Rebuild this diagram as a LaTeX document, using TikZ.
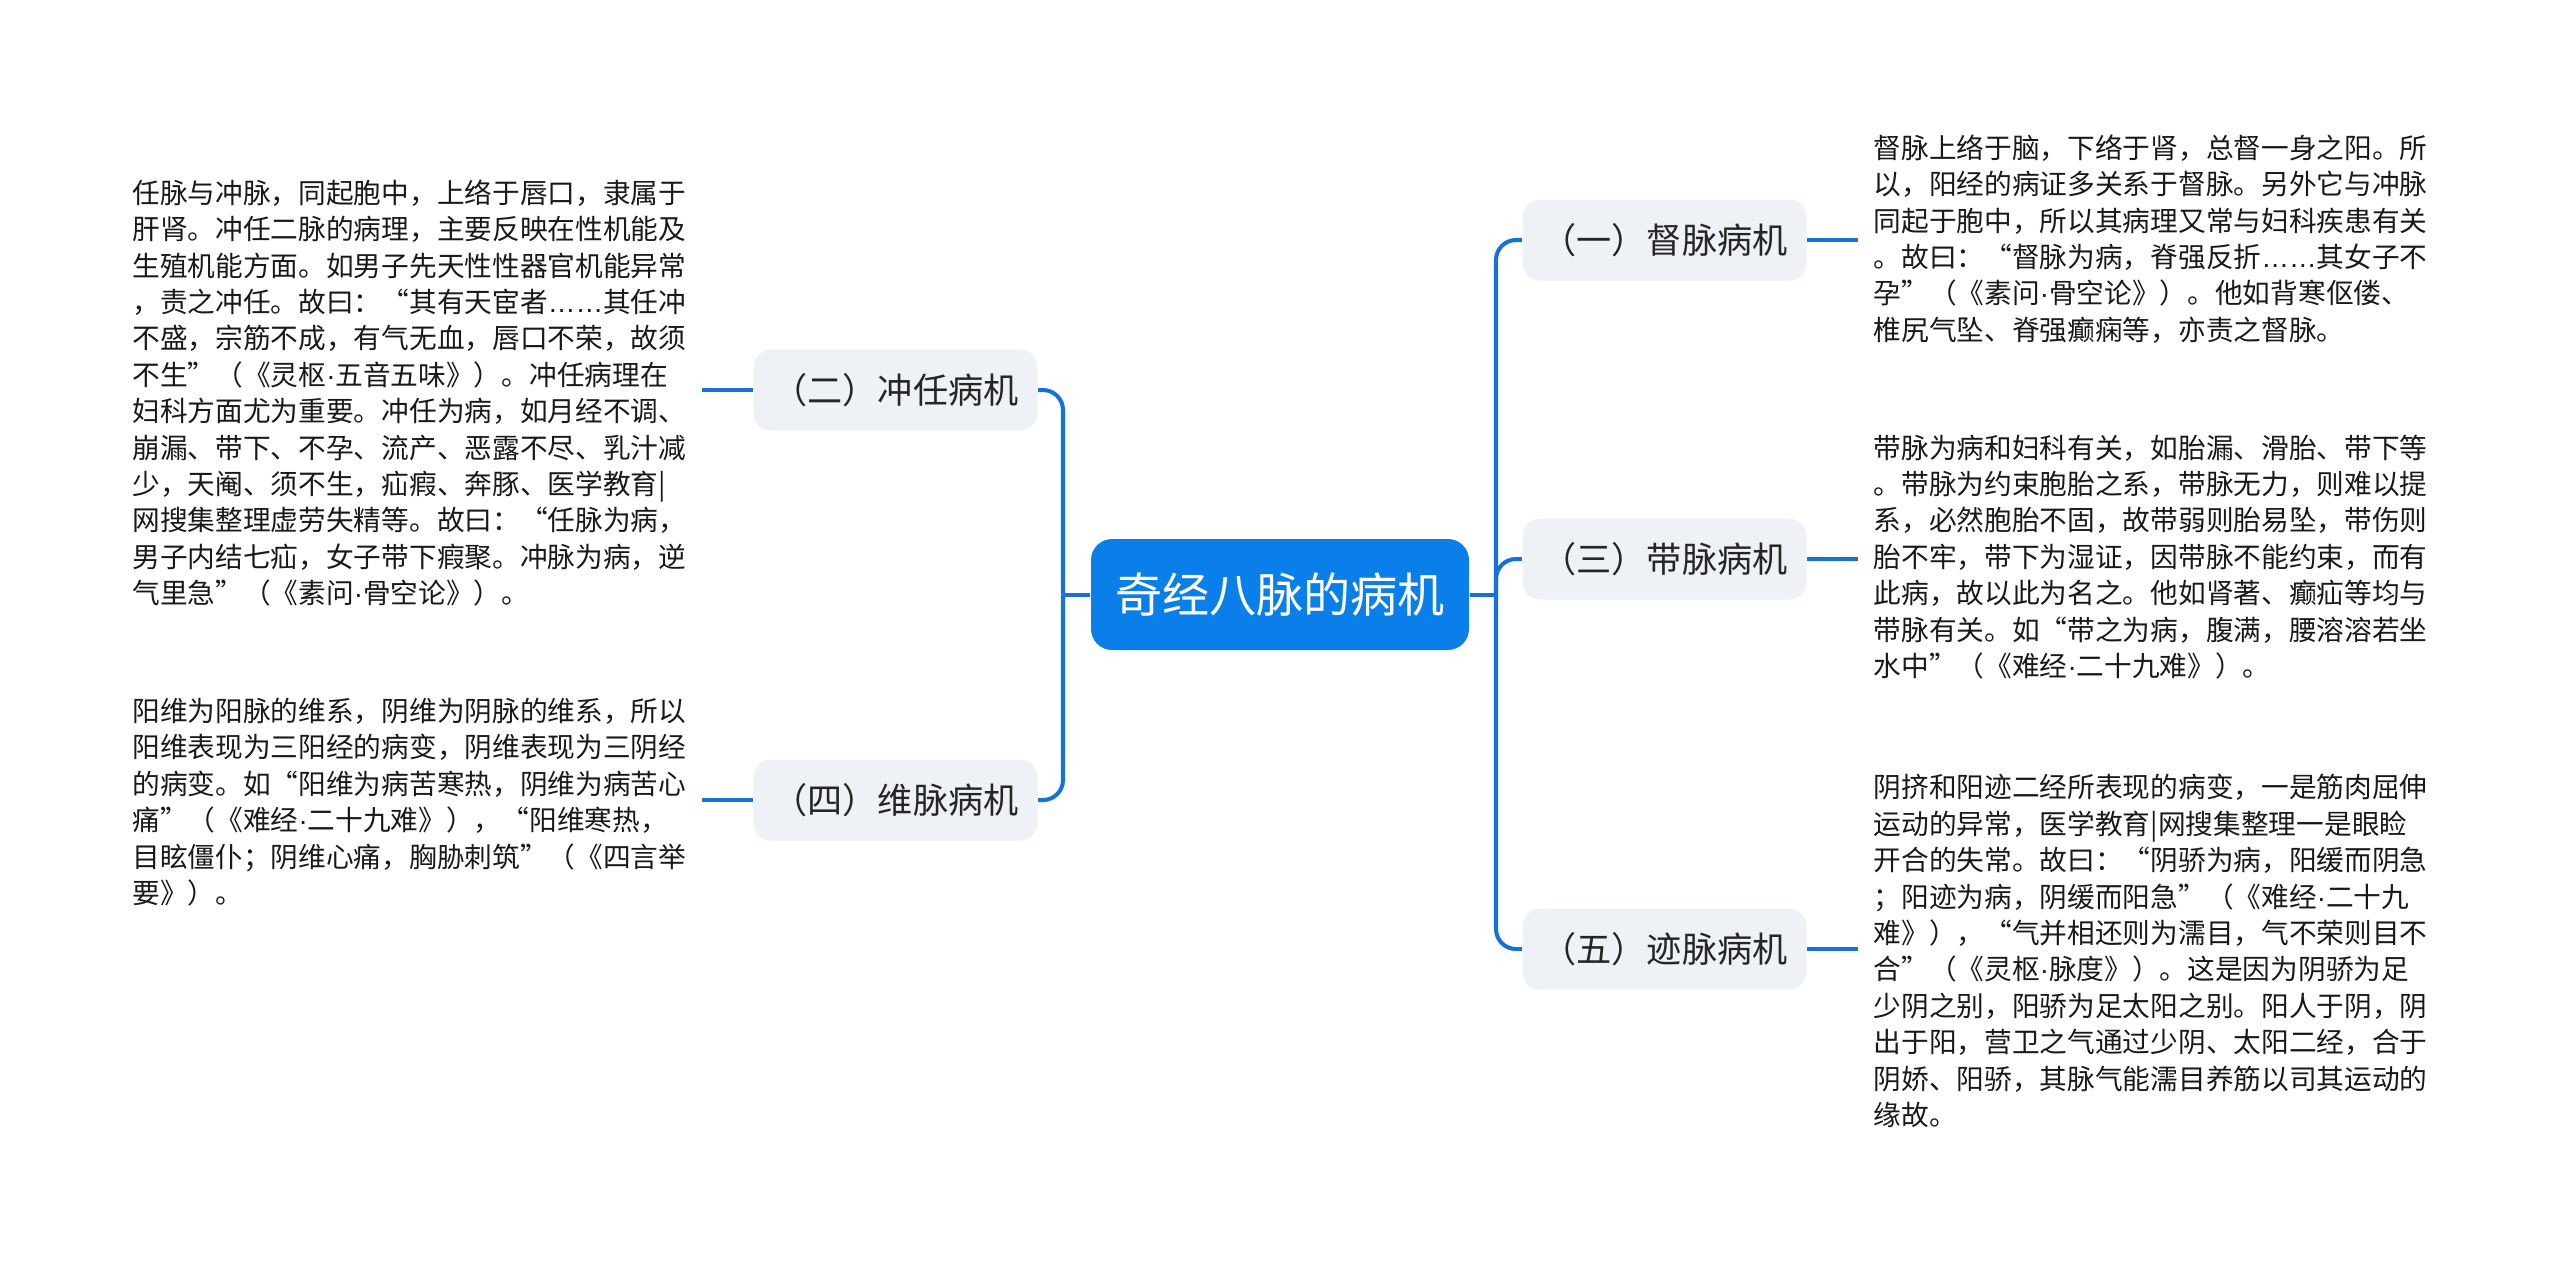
\documentclass[tikz,border=0pt]{standalone}
\usepackage{fontspec}
\setmainfont{Noto Sans CJK SC}
\newfontfamily\latinfont{Liberation Sans}
\newcommand{\mdot}{{\latinfont ·}}
\newcommand{\latdots}{{\latinfont ……}}
\usetikzlibrary{positioning}
\definecolor{mapblue}{HTML}{0B7FE9}
\definecolor{linkblue}{HTML}{1672D6}
\definecolor{topicgray}{HTML}{EEF1F5}
\tikzset{
  rootbox/.style={rectangle, rounded corners=6pt, fill=mapblue, text=white,
    minimum width=3.78cm, minimum height=1.11cm, inner sep=0pt,
    font=\fontsize{13.4}{16}\selectfont},
  topicbox/.style={rectangle, rounded corners=5pt, fill=topicgray, text=black!85,
    minimum width=2.84cm, minimum height=0.81cm, inner sep=0pt,
    font=\fontsize{10}{12}\selectfont},
  leaf/.style={align=left, text=black!90, inner xsep=0.15cm, inner ysep=0pt,
    font=\fontsize{7.88}{10.36}\selectfont},
  link/.style={draw=linkblue, line width=1.15pt},
  trunk/.style={link, rounded corners=0.2cm},
}

\begin{document}
\begin{tikzpicture}
  \useasboundingbox (0,0) rectangle (25.6,-12.6);
  % centre and the five topics
  \node[rootbox] (root) at (12.80,-5.945) {奇经八脉的病机};
  \node[topicbox] (chong) at (8.955,-3.90) {（二）冲任病机};
  \node[topicbox] (wei) at (8.955,-8.00) {（四）维脉病机};
  \node[topicbox] (du) at (16.645,-2.40) {（一）督脉病机};
  \node[topicbox] (dai) at (16.645,-5.59) {（三）带脉病机};
  \node[topicbox] (qiao) at (16.645,-9.49) {（五）迹脉病机};
  \coordinate (lj) at (10.63,-5.945);
  \coordinate (rj) at (14.96,-5.945);
  % notes
  \node[leaf, anchor=east] (chongtxt) at (7.02,-3.93) {任脉与冲脉，同起胞中，上络于唇口，隶属于\\
    肝肾。冲任二脉的病理，主要反映在性机能及\\
    生殖机能方面。如男子先天性性器官机能异常\\
    ，责之冲任。故曰：“其有天宦者\latdots 其任冲\\
    不盛，宗筋不成，有气无血，唇口不荣，故须\\
    不生”（《灵枢\mdot 五音五味》）。冲任病理在\\
    妇科方面尤为重要。冲任为病，如月经不调、\\
    崩漏、带下、不孕、流产、恶露不尽、乳汁减\\
    少，天阉、须不生，疝瘕、奔豚、医学教育|\\
    网搜集整理虚劳失精等。故曰：“任脉为病，\\
    男子内结七疝，女子带下瘕聚。冲脉为病，逆\\
    气里急”（《素问\mdot 骨空论》）。};
  \node[leaf, anchor=east] (weitxt) at (7.02,-8.02) {阳维为阳脉的维系，阴维为阴脉的维系，所以\\
    阳维表现为三阳经的病变，阴维表现为三阴经\\
    的病变。如“阳维为病苦寒热，阴维为病苦心\\
    痛”（《难经\mdot 二十九难》），“阳维寒热，\\
    目眩僵仆；阴维心痛，胸胁刺筑”（《四言举\\
    要》）。};
  \node[leaf, anchor=west] (dutxt) at (18.58,-2.39) {督脉上络于脑，下络于肾，总督一身之阳。所\\
    以，阳经的病证多关系于督脉。另外它与冲脉\\
    同起于胞中，所以其病理又常与妇科疾患有关\\
    。故曰：“督脉为病，脊强反折\latdots 其女子不\\
    孕”（《素问\mdot 骨空论》）。他如背寒伛偻、\\
    椎尻气坠、脊强癫痫等，亦责之督脉。};
  \node[leaf, anchor=west] (daitxt) at (18.58,-5.57) {带脉为病和妇科有关，如胎漏、滑胎、带下等\\
    。带脉为约束胞胎之系，带脉无力，则难以提\\
    系，必然胞胎不固，故带弱则胎易坠，带伤则\\
    胎不牢，带下为湿证，因带脉不能约束，而有\\
    此病，故以此为名之。他如肾著、癫疝等均与\\
    带脉有关。如“带之为病，腹满，腰溶溶若坐\\
    水中”（《难经\mdot 二十九难》）。};
  \node[leaf, anchor=west] (qiaotxt) at (18.58,-9.51) {阴挤和阳迹二经所表现的病变，一是筋肉屈伸\\
    运动的异常，医学教育|网搜集整理一是眼睑\\
    开合的失常。故曰：“阴骄为病，阳缓而阴急\\
    ；阳迹为病，阴缓而阳急”（《难经\mdot 二十九\\
    难》），“气并相还则为濡目，气不荣则目不\\
    合”（《灵枢\mdot 脉度》）。这是因为阴骄为足\\
    少阴之别，阳骄为足太阳之别。阳人于阴，阴\\
    出于阳，营卫之气通过少阴、太阳二经，合于\\
    阴娇、阳骄，其脉气能濡目养筋以司其运动的\\
    缘故。};
  % connectors
  \draw[link] (root.west) -- (lj);
  \draw[trunk] (lj) |- (chong.east);
  \draw[trunk] (lj) |- (wei.east);
  \draw[link] (root.east) -- (rj);
  \draw[trunk] (rj) |- (du.west);
  \draw[trunk] (rj) |- (dai.west);
  \draw[trunk] (rj) |- (qiao.west);
  \draw[link] (chong.west) -- (chong.west -| chongtxt.east);
  \draw[link] (wei.west) -- (wei.west -| weitxt.east);
  \draw[link] (du.east) -- (du.east -| dutxt.west);
  \draw[link] (dai.east) -- (dai.east -| daitxt.west);
  \draw[link] (qiao.east) -- (qiao.east -| qiaotxt.west);
\end{tikzpicture}
\end{document}
